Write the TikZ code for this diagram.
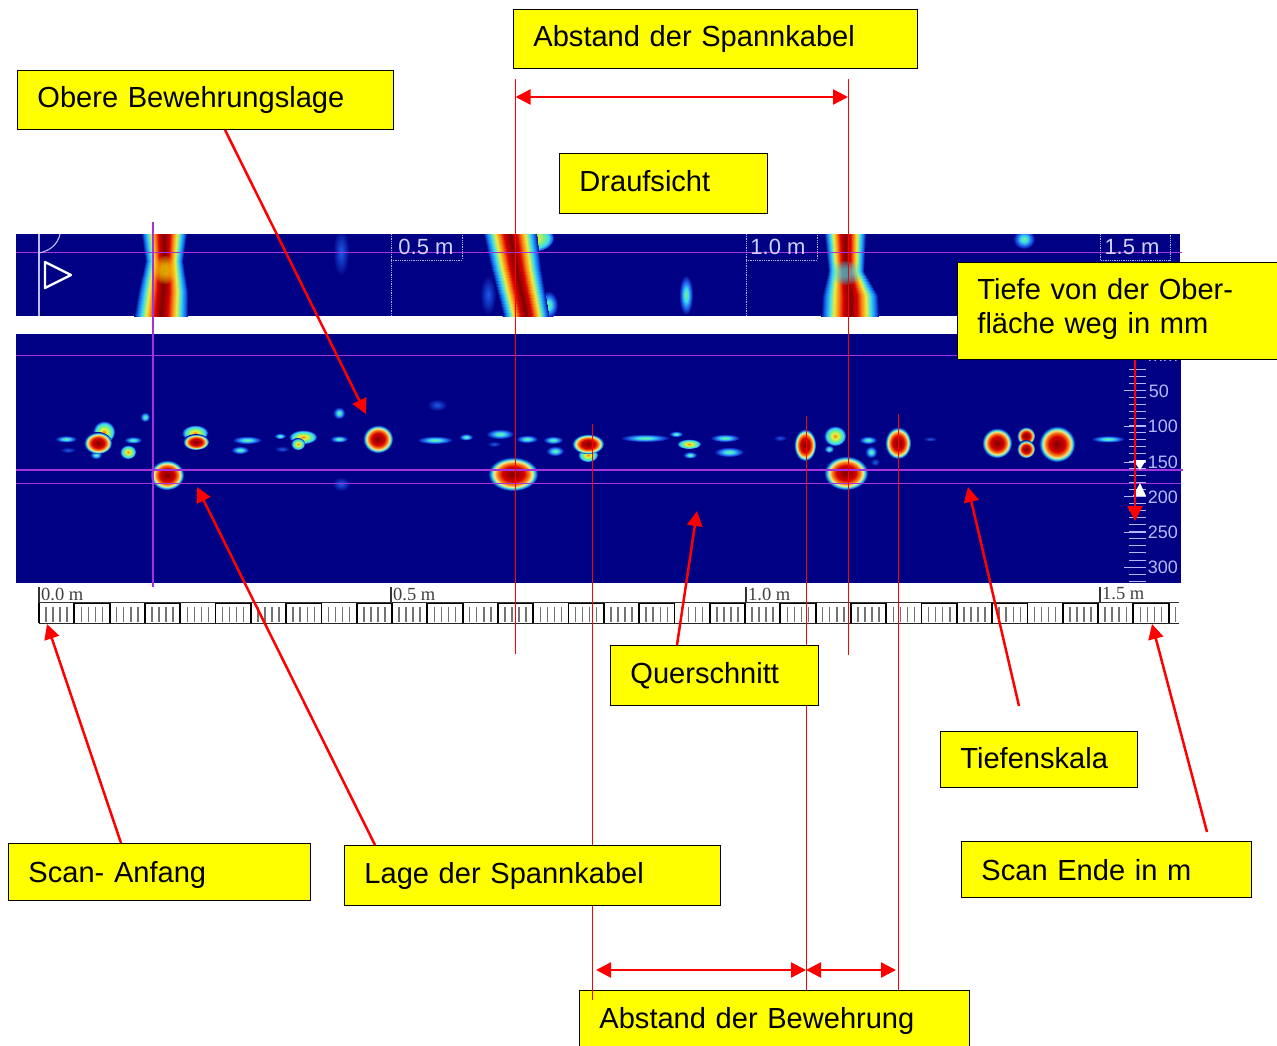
\documentclass[tikz,border=0pt]{standalone}
\usepackage{fontspec}
\setmainfont{Liberation Sans}
\newfontfamily\rulerfont{Liberation Serif}
\usetikzlibrary{arrows.meta}
\definecolor{panelblue}{RGB}{0,0,132}
\definecolor{scanpurple}{RGB}{165,50,220}
\definecolor{labelyellow}{RGB}{255,255,0}
\definecolor{lineRed}{RGB}{255,0,0}
\definecolor{jA}{RGB}{125,0,0}
\definecolor{jB}{RGB}{215,0,0}
\definecolor{jC}{RGB}{250,130,20}
\definecolor{jD}{RGB}{245,235,150}
\definecolor{jE}{RGB}{90,225,190}
\definecolor{jF}{RGB}{20,110,240}
\definecolor{jY}{RGB}{235,240,60}
\definecolor{jG}{RGB}{120,240,130}
\definecolor{jH}{RGB}{60,220,240}
\definecolor{jI}{RGB}{30,90,235}
\pgfdeclareradialshading{jetfull}{\pgfpoint{0bp}{0bp}}{color(0bp)=(jA);color(11bp)=(jB);color(16bp)=(jC);color(19bp)=(jD);color(21bp)=(jE);color(23bp)=(jF);color(25bp)=(panelblue);color(50bp)=(panelblue)}
\pgfdeclareradialshading{jetmid}{\pgfpoint{0bp}{0bp}}{color(0bp)=(jC);color(7bp)=(jY);color(13bp)=(jG);color(19bp)=(jH);color(23bp)=(jI);color(25bp)=(panelblue);color(50bp)=(panelblue)}
\pgfdeclareradialshading{jetlow}{\pgfpoint{0bp}{0bp}}{color(0bp)=(jG);color(8bp)=(jH);color(17bp)=(jI);color(25bp)=(panelblue);color(50bp)=(panelblue)}
\pgfdeclareradialshading{jetfaint}{\pgfpoint{0bp}{0bp}}{color(0bp)=(jI);color(25bp)=(panelblue);color(50bp)=(panelblue)}
\pgfdeclarehorizontalshading{jetcol}{100bp}{color(0bp)=(panelblue);color(25bp)=(panelblue);color(28bp)=(jF);color(32bp)=(jH);color(36bp)=(jY);color(40bp)=(jC);color(44bp)=(jB);color(50bp)=(jA);color(56bp)=(jB);color(60bp)=(jC);color(64bp)=(jY);color(68bp)=(jH);color(72bp)=(jF);color(75bp)=(panelblue);color(100bp)=(panelblue)}
\newcommand{\jetblob}[5]{\shade[shading=#1] (#2,#3) ellipse [x radius=#4,y radius=#5];}
% one stretch of a vertical stripe in the top panel: y1 y2 c1 w1 c2 w2
\newcommand{\stripe}[6]{%
  \foreach \s in {0,...,15} {
    \pgfmathsetmacro{\ya}{#1+(#2-#1)*\s/16}
    \pgfmathsetmacro{\yb}{#1+(#2-#1)*(\s+1)/16+0.4}
    \pgfmathsetmacro{\cc}{#3+(#5-#3)*(\s+0.5)/16}
    \pgfmathsetmacro{\ww}{#4+(#6-#4)*(\s+0.5)/16}
    \shade[shading=jetcol] (\cc-\ww,\ya) rectangle (\cc+\ww,\yb);
  }}
% soft tint: colour x y rx ry
\newcommand{\tint}[5]{%
  \foreach \f in {1,0.85,0.7,0.55,0.4} {
    \fill[#1,opacity=0.2] (#2,#3) ellipse [x radius={#4*\f},y radius={#5*\f}];
  }}
\newcommand{\lowered}[2]{\raisebox{-#1pt}[0pt][0pt]{#2}}
\tikzset{
  lbl/.style={draw=black,line width=0.9pt,fill=labelyellow,anchor=north west,inner xsep=20pt,inner ysep=0pt,align=left,font=\fontsize{29.05}{34}\selectfont,text=black},
  thinred/.style={draw=lineRed,line width=1pt},
  callout/.style={draw=lineRed,line width=2.5pt,-{Triangle[length=15pt,width=15pt]}},
  dimline/.style={draw=lineRed,line width=2.5pt,{Triangle[length=15pt,width=15pt]}-{Triangle[length=15pt,width=15pt]}},
  purpleline/.style={draw=scanpurple,line width=1.6pt},
  toplabel/.style={text=white!82!blue,font=\fontsize{22}{22}\selectfont,inner sep=0pt},
  depthlabel/.style={text=white!72!blue,font=\fontsize{18}{18}\selectfont,inner sep=0pt,anchor=east},
  rulerlabel/.style={text=black!75,font=\rulerfont\fontsize{18.5}{18.5}\selectfont,inner sep=0pt,anchor=west},
  dotwhite/.style={draw=white!70!blue,line width=0.8pt,densely dotted}
}
\begin{document}
\begin{tikzpicture}[x=1pt,y=-1pt]
\useasboundingbox (0,0) rectangle (1277,1045);
% panels
\fill[panelblue] (16,234) rectangle (1180,316);
\fill[panelblue] (16,334) rectangle (1181,583);
% top panel stripes
\begin{scope}
\clip (16,234) rectangle (1180,316);
\stripe{234}{262}{164}{23}{164}{19}
\stripe{262}{292}{164}{19}{163}{25}
\stripe{292}{316}{163}{25}{161}{27}
\tint{yellow}{165}{270}{11}{14}
\jetblob{jetfaint}{341}{252}{8}{24}
\jetblob{jetmid}{532}{238}{22}{14}
\jetblob{jetfaint}{488}{295}{8}{20}
\jetblob{jetlow}{548}{305}{10}{14}
\stripe{234}{270}{510}{27}{516}{25}
\stripe{270}{316}{516}{25}{526}{23}
\jetblob{jetlow}{686}{295}{7}{20}
\stripe{234}{272}{845}{21}{846}{18}
\stripe{272}{296}{846}{18}{850}{28}
\stripe{296}{316}{850}{28}{850}{29}
\tint{jH}{846}{273}{16}{12}
\jetblob{jetlow}{1024}{239}{11}{10}
\end{scope}
% lower panel blobs
\jetblob{jetlow}{66}{439}{11}{3.5}
\jetblob{jetfaint}{68}{450}{8}{3}
\jetblob{jetlow}{96}{455}{6}{4}
\jetblob{jetmid}{104}{432}{11}{11}
\jetblob{jetfull}{98}{443}{14}{11}
\jetblob{jetlow}{133}{440}{9}{3.5}
\jetblob{jetmid}{128}{452}{8}{7}
\jetblob{jetlow}{145}{417}{5}{5}
\jetblob{jetmid}{195}{433}{13}{8}
\jetblob{jetfull}{196}{442}{13}{8}
\jetblob{jetlow}{247}{440}{15}{4}
\jetblob{jetlow}{240}{450}{9}{4}
\jetblob{jetfaint}{282}{449}{8}{3}
\jetblob{jetlow}{280}{436}{6}{3}
\jetblob{jetmid}{303}{437}{14}{7}
\jetblob{jetmid}{298}{444}{7}{6}
\jetblob{jetlow}{339}{439}{9}{3.5}
\jetblob{jetlow}{339}{413}{6}{6}
\jetblob{jetfull}{378}{439}{15}{14}
\jetblob{jetfull}{167}{475}{17}{15}
\jetblob{jetfaint}{341}{484}{9}{7}
\jetblob{jetfaint}{437}{405}{10}{6}
\jetblob{jetlow}{435}{440}{18}{4}
\jetblob{jetlow}{466}{437}{7}{3.5}
\jetblob{jetlow}{500}{434}{14}{5}
\jetblob{jetfaint}{494}{444}{7}{3}
\jetblob{jetlow}{527}{439}{11}{4}
\jetblob{jetlow}{553}{440}{10}{4}
\jetblob{jetlow}{555}{451}{9}{5}
\jetblob{jetmid}{588}{455}{10}{7}
\jetblob{jetfull}{588}{444}{16}{10}
\jetblob{jetlow}{645}{438}{25}{4}
\jetblob{jetlow}{676}{434}{7}{3}
\jetblob{jetmid}{689}{444}{12}{5}
\jetblob{jetlow}{690}{455}{7}{3.5}
\jetblob{jetlow}{725}{438}{15}{4}
\jetblob{jetlow}{729}{452}{15}{5}
\jetblob{jetfaint}{780}{438}{7}{3}
\jetblob{jetfull}{805}{445}{11}{16}
\jetblob{jetmid}{835}{436}{11}{10}
\jetblob{jetlow}{829}{449}{5}{4}
\jetblob{jetfull}{513}{474}{25}{17}
\jetblob{jetfull}{846}{473}{22}{17}
\jetblob{jetlow}{868}{440}{9}{4}
\jetblob{jetlow}{871}{452}{6}{6}
\jetblob{jetfaint}{875}{462}{5}{4}
\jetblob{jetfull}{898}{443}{13}{16}
\jetblob{jetfaint}{930}{439}{7}{2.5}
\jetblob{jetfull}{997}{443}{15}{15}
\jetblob{jetfull}{1026}{436}{9}{9}
\jetblob{jetfull}{1026}{449}{9}{9}
\jetblob{jetfull}{1057}{444}{18}{18}
\jetblob{jetlow}{1108}{439}{17}{3.5}
% purple scan lines
\draw[purpleline] (16,252.5) -- (1182,252.5);
\draw[purpleline] (16,355.5) -- (1181,355.5);
\draw[purpleline] (16,470) -- (1183,470);
\draw[purpleline,line width=1.2pt] (16,483.5) -- (1181,483.5);
\draw[purpleline,line width=1.2pt] (153,222) -- (153,587);
% top panel markings
\draw[draw=white!75!blue,line width=1.1pt] (39,234) -- (39,316);
\draw[draw=white!75!blue,line width=1.1pt] (60,234) .. controls (58,244) and (50,251) .. (39,253);
\draw[white,line width=2.4pt,line join=round] (45,262) -- (71,275) -- (45,288) -- cycle;
\draw[dotwhite] (391,234) -- (391,316);
\draw[dotwhite] (391,260) -- (462,260) -- (462,234);
\draw[dotwhite] (746,234) -- (746,316);
\draw[dotwhite] (746,260) -- (817,260) -- (817,234);
\draw[dotwhite] (1100,234) -- (1100,260) -- (1170,260) -- (1170,234);
\node[toplabel] (t05) at (426,247) {0.5 m};
\node[toplabel] (t10) at (778,247) {1.0 m};
\node[toplabel] (t15) at (1132,247) {1.5 m};
% depth scale
\foreach \i in {0,...,30} {
  \pgfmathsetmacro{\yy}{369+7.07*\i}
  \draw[draw=white!72!blue,line width=0.8pt] (1129,\yy) -- (1146,\yy);
}
\foreach \yy in {390,426,462,496,532,567} {
  \draw[draw=white!72!blue,line width=1pt] (1124,\yy) -- (1146,\yy);
}
\node[depthlabel] (dmm) at (1178,357) {mm};
\node[depthlabel] (d50) at (1169,391) {50};
\node[depthlabel] (d100) at (1178,426) {100};
\node[depthlabel] (d150) at (1178,462) {150};
\node[depthlabel] (d200) at (1178,497) {200};
\node[depthlabel] (d250) at (1178,532) {250};
\node[depthlabel] (d300) at (1178,567) {300};
\fill[white] (1133,460) -- (1146,460) -- (1140,470) -- cycle;
\fill[white] (1133,496) -- (1146,496) -- (1140,483) -- cycle;
% ruler
\begin{scope}
\clip (30,585) rectangle (1180,626);
\foreach \i in {0,...,32} {
  \pgfmathsetmacro{\xx}{39+35.3*\i}
  \foreach \j in {1,2,3,4} {
    \pgfmathsetmacro{\mm}{\xx+7.06*\j}
    \draw[black!55,line width=1.5pt] (\mm,607) -- (\mm,622);
  }
  \draw[black,line width=1.8pt] (\xx,603) -- (\xx,623);
}
\foreach \i in {1,3,...,31} {
  \pgfmathsetmacro{\xa}{39+35.3*\i}
  \pgfmathsetmacro{\xb}{39+35.3*(\i+1)}
  \draw[black,line width=2.6pt] (\xa,603) -- (\xb,603);
}
\draw[black!80,line width=0.9pt] (39,602) -- (1179,602);
\draw[black!85,line width=1.8pt] (39,623.5) -- (1179,623.5);
\end{scope}
\foreach \xx in {39,391,746,1100} { \draw[black!80,line width=1.2pt] (\xx,587) -- (\xx,603); }
\node[rulerlabel] (r00) at (41,594) {0.0 m};
\node[rulerlabel] (r05) at (393,594) {0.5 m};
\node[rulerlabel] (r10) at (748,594) {1.0 m};
\node[rulerlabel] (r15) at (1102,594) {1.5 m};
% free ends
\coordinate (spTopL) at (515,79);
\coordinate (spBotL) at (515,654);
\coordinate (spTopR) at (848.5,79);
\coordinate (spBotR) at (848.5,655);
\coordinate (bwA) at (592,424);
\coordinate (bwAb) at (592,1000);
\coordinate (bwB) at (806.5,416);
\coordinate (bwBb) at (806.5,1045);
\coordinate (bwC) at (898.5,414);
\coordinate (bwCb) at (898.5,1045);
% thin guide lines
\draw[thinred] (spTopL) -- (spBotL);
\draw[thinred] (spTopR) -- (spBotR);
\draw[thinred] (bwA) -- (bwAb);
\draw[thinred] (bwB) -- (bwBb);
\draw[thinred] (bwC) -- (bwCb);
% labels
\node[lbl,text width=364pt,minimum height=59pt] (abSp) at (513,8.5) {\lowered{8.5}{Abstand der Spannkabel}};
\node[lbl,text width=336pt,minimum height=59.5pt] (obere) at (17,69.5) {\lowered{7.5}{Obere Bewehrungslage}};
\node[lbl,text width=168pt,minimum height=60pt] (drauf) at (559,153) {\lowered{7.7}{Draufsicht}};
\node[lbl,text width=280pt,minimum height=97pt] (tiefe) at (957,262) {Tiefe von der Ober-\\fläche weg in mm\rule[-10pt]{0pt}{1pt}};
\node[lbl,text width=168pt,minimum height=60pt] (quer) at (610,645) {\lowered{8.5}{Querschnitt}};
\node[lbl,text width=157pt,minimum height=56pt] (skala) at (940,731) {\lowered{9.5}{Tiefenskala}};
\node[lbl,text width=262pt,minimum height=57pt] (anfang) at (8,843) {\lowered{11}{Scan- Anfang}};
\node[lbl,text width=336pt,minimum height=60pt] (lage) at (344,845) {\lowered{7.7}{Lage der Spannkabel}};
\node[lbl,text width=250pt,minimum height=56pt] (ende) at (961,841) {\lowered{11.5}{Scan Ende in m}};
\node[lbl,text width=350pt,minimum height=56pt] (abBw) at (579,990) {\lowered{9.8}{Abstand der Bewehrung}};
% the first guide line runs on over the last label
\draw[thinred] (abBw.north -| bwAb) -- (bwAb);
% arrow targets
\coordinate (tObere) at (366,414);
\coordinate (tLage) at (197,487);
\coordinate (tQuer) at (697,511);
\coordinate (tSkala) at (968,487);
\coordinate (tAnfang) at (47,624);
\coordinate (tEnde) at (1152,624);
\coordinate (tTiefe) at (1135,521);
\coordinate (spDimL) at (515.5,97);
\coordinate (spDimR) at (848,97);
\coordinate (bwDimL) at (596,970);
\coordinate (bwDimM) at (806,970);
\coordinate (bwDimR) at (896,970);
% arrows
\draw[callout] ([xshift=208pt]obere.south west) -- (tObere);
\draw[callout] ([xshift=31pt]lage.north west) -- (tLage);
\draw[callout] ([xshift=67pt]quer.north west) -- (tQuer);
\draw[callout] ([xshift=79pt,yshift=25pt]skala.north west) -- (tSkala);
\draw[callout] ([xshift=113pt]anfang.north west) -- (tAnfang);
\draw[callout] ([xshift=246pt,yshift=9pt]ende.north west) -- (tEnde);
\draw[callout] ([xshift=178pt]tiefe.south west) -- (tTiefe);
\draw[dimline] (spDimL) -- (spDimR);
\draw[dimline] (bwDimL) -- (bwDimM);
\draw[dimline] (bwDimM) -- (bwDimR);
\end{tikzpicture}
\end{document}
